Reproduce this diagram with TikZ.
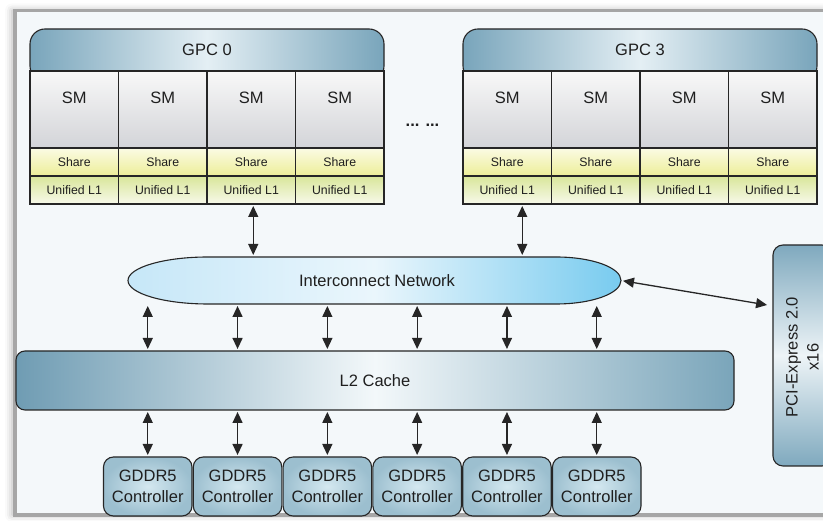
\documentclass[tikz,border=0pt]{standalone}
\usepackage{fontspec}
\setmainfont{Liberation Sans}
\usetikzlibrary{arrows.meta,shadows.blur,calc}

\definecolor{frameBg}{HTML}{F4F8FA}
\definecolor{frameBd}{HTML}{A6A6A6}
\definecolor{lineC}{HTML}{262626}
\definecolor{steel}{HTML}{79A5BB}
\definecolor{steelLight}{HTML}{E4EFF4}
\definecolor{smTop}{HTML}{F8F8F8}
\definecolor{smBot}{HTML}{D3D4D8}
\definecolor{shTop}{HTML}{FBFBE4}
\definecolor{shBot}{HTML}{EDEE98}
\definecolor{lTop}{HTML}{D9E69A}
\definecolor{lBot}{HTML}{F7F9EA}
\definecolor{icL}{HTML}{C6E7F8}
\definecolor{icM}{HTML}{EAF6FC}
\definecolor{icR}{HTML}{78CBEF}
\definecolor{ctrlIn}{HTML}{D4E8F0}
\definecolor{ctrlOut}{HTML}{9CBFCF}
\definecolor{l2L}{HTML}{6F9CB3}
\definecolor{l2M}{HTML}{F3F8FA}
\definecolor{l2R}{HTML}{7AA5BA}
\definecolor{pciEdge}{HTML}{7FA9BE}
\definecolor{pciMid}{HTML}{EEF4F7}

\begin{document}
\begin{tikzpicture}[x=1pt,y=1pt,
  every node/.style={font=\fontsize{16.5}{21}\selectfont, text=black!88},
  outline/.style={draw=lineC, line width=1.1pt, outer sep=0pt, inner sep=0pt},
  gpchead/.style={outline, rounded corners=15pt, shading=axis,
    left color=steel, right color=steel, middle color=steelLight,
    minimum width=354pt, minimum height=52pt, anchor=north west},
  smcell/.style={outline, top color=smTop, bottom color=smBot,
    minimum width=88.5pt, minimum height=77pt, anchor=north west,
    text height=11.8pt, text depth=23pt},
  sharecell/.style={outline, top color=shTop, bottom color=shBot,
    minimum width=88.5pt, minimum height=28pt, anchor=north west,
    font=\fontsize{12.3}{14}\selectfont},
  l1cell/.style={outline, top color=lTop, bottom color=lBot,
    minimum width=88.5pt, minimum height=28pt, anchor=north west,
    font=\fontsize{12.3}{14}\selectfont},
  ctrl/.style={outline, rounded corners=10pt, inner color=ctrlIn, outer color=ctrlOut,
    minimum width=88.5pt, minimum height=59pt, align=center},
  l2box/.style={outline, rounded corners=9pt, shading=axis,
    left color=l2L, right color=l2R, middle color=l2M,
    minimum width=718pt, minimum height=59pt},
  pcibox/.style={outline, rounded corners=10pt, shading=axis,
    top color=pciEdge, bottom color=pciEdge, middle color=pciMid,
    minimum width=59pt, minimum height=221pt},
  biarrow/.style={line width=1.3pt, draw=lineC,
    {Triangle[length=11pt,width=10pt]}-{Triangle[length=11pt,width=10pt]},
    shorten <=2pt, shorten >=2pt},
]
\useasboundingbox (0,0) rectangle (823,521);

% outer panel with soft shadow
\draw[draw=frameBd, line width=3.5pt, fill=frameBg,
  blur shadow={shadow xshift=-3pt, shadow yshift=0pt, shadow blur radius=7pt, shadow opacity=30}]
  (15,6) rectangle (845,510.5);

% graphics processing clusters
\foreach \g/\x/\lbl in {a/30/0, b/463/3} {
  \node[gpchead] (gpc\g) at (\x,492) {};
  \node (gpct\g) at ($(gpc\g.north)+(0,-21)$) {GPC \lbl};
  \foreach \k in {1,...,4} {
    \node[smcell] (sm\g\k) at ({\x+88.5*(\k-1)},450) {SM};
    \node[sharecell] (sh\g\k) at ({\x+88.5*(\k-1)},373) {Share};
    \node[l1cell] (l1\g\k) at ({\x+88.5*(\k-1)},345) {Unified L1};
  }
}
\node (dots) at (422.5,396) {\textbf{... ...}};

% interconnect network
\path[draw=lineC, line width=1.1pt, shading=axis, left color=icL, right color=icR, middle color=icM]
  (208,264) -- (556,264) arc[start angle=90, end angle=-90, x radius=65, y radius=23.5]
  -- (208,217) arc[start angle=270, end angle=90, x radius=80, y radius=23.5] -- cycle;
\coordinate (ict) at (375,264);
\coordinate (icb) at (375,217);
\coordinate (icr) at (621,240.5);
\node (icn) at (377,240.5) {Interconnect Network};

% L2 cache
\node[l2box] (l2) at (375,140.5) {L2 Cache};

% PCI Express interface
\node[pcibox] (pci) at (802.5,165.5) {};
\node[rotate=90, align=center] (pcit) at (802.5,164) {PCI-Express 2.0\\x16};

% memory controllers
\foreach \i in {1,...,6}
  \node[ctrl] (c\i) at ({147.75+89.8*(\i-1)},34.5) {GDDR5\\Controller};

% links
\foreach \i in {1,...,6} {
  \draw[biarrow] (c\i.north) -- (c\i.north |- l2.south);
  \draw[biarrow] (c\i.north |- l2.north) -- (c\i.north |- icb);
}
\draw[biarrow] ([xshift=2pt]l1a3.south) -- ([xshift=2pt]l1a3.south |- ict);
\draw[biarrow] ([xshift=15pt]l1b1.south) -- ([xshift=15pt]l1b1.south |- ict);
\draw[biarrow, shorten >=6pt] (icr) -- ($(pci.north west)!0.276!(pci.south west)$);
\end{tikzpicture}
\end{document}
